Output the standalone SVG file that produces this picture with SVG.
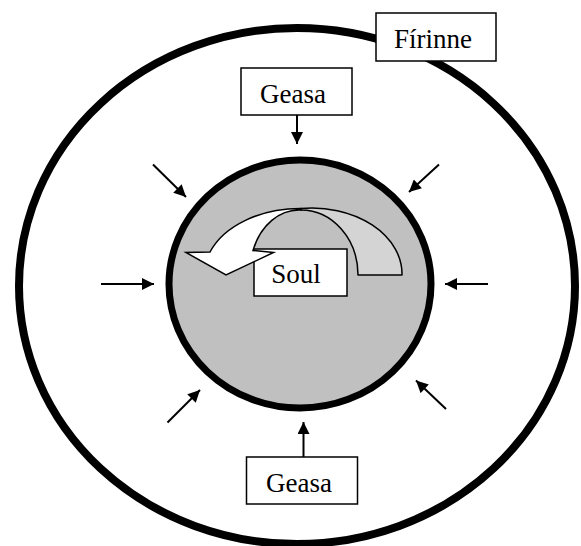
<svg xmlns="http://www.w3.org/2000/svg" width="581" height="546" viewBox="0 0 581 546">
  <style>
    .box { fill: #ffffff; stroke: #000000; stroke-width: 1.5; }
    .lbl { font-size: 27px; fill: #000000; text-anchor: middle; }
    .arr { stroke: #000000; stroke-width: 2; fill: none; marker-end: url(#ah); }
  </style>
  <defs>
    <marker id="ah" viewBox="0 0 10 10" refX="10" refY="5" markerWidth="13" markerHeight="12" markerUnits="userSpaceOnUse" orient="auto">
      <path d="M0,0 L10,5 L0,10 z" fill="#000000"/>
    </marker>
  </defs>
  <rect width="581" height="546" fill="#ffffff"/>

  <g id="firinne-circle">
    <ellipse cx="297" cy="286" rx="278" ry="258" fill="#ffffff" stroke="#000000" stroke-width="8"/>
  </g>

  <g id="soul-circle">
    <ellipse cx="300" cy="284" rx="131" ry="124" fill="#c0c0c0" stroke="#000000" stroke-width="7"/>
  </g>

  <g id="connectors">
    <line class="arr" x1="297" y1="115" x2="297" y2="144"/>
    <line class="arr" x1="303.5" y1="457" x2="303.5" y2="422"/>
    <line class="arr" x1="101" y1="284" x2="154" y2="284"/>
    <line class="arr" x1="488" y1="284" x2="445" y2="284"/>
    <line class="arr" x1="153" y1="164.5" x2="186" y2="197"/>
    <line class="arr" x1="439" y1="164.5" x2="409" y2="192"/>
    <line class="arr" x1="167.5" y1="422.5" x2="200" y2="390"/>
    <line class="arr" x1="446" y1="409" x2="416" y2="380.5"/>
  </g>

  <g id="soul">
    <rect class="box" x="254" y="249" width="93" height="47"/>
    <text class="lbl" x="296" y="283" font-family="'Liberation Serif', 'Times New Roman', 'DejaVu Serif', serif">Soul</text>
  </g>

  <g id="curved-arrow">
    <path d="M301,208.5 A90,66 0 0 1 402,275 L358,275 A57,65 0 0 0 301,210 Z" fill="#d4d4d4" stroke="#000000" stroke-width="1.5" stroke-linejoin="round"/>
    <path d="M301,208.5 A96,66 0 0 0 210,252 L186,252.5 L226,275 L273.5,252.5 L253,250.5 A49,62 0 0 1 301,210 Z" fill="#ffffff" stroke="#000000" stroke-width="1.5" stroke-linejoin="miter"/>
  </g>

  <g id="firinne">
    <rect class="box" x="376" y="13" width="120" height="48"/>
    <text class="lbl" x="433" y="48" font-family="'Liberation Serif', 'Times New Roman', 'DejaVu Serif', serif">Fírinne</text>
  </g>

  <g id="geasa-top">
    <rect class="box" x="241" y="68" width="111" height="47"/>
    <text class="lbl" x="293" y="103" font-family="'Liberation Serif', 'Times New Roman', 'DejaVu Serif', serif">Geasa</text>
  </g>

  <g id="geasa-bottom">
    <rect class="box" x="246.5" y="457" width="111" height="47"/>
    <text class="lbl" x="299" y="492" font-family="'Liberation Serif', 'Times New Roman', 'DejaVu Serif', serif">Geasa</text>
  </g>
</svg>
